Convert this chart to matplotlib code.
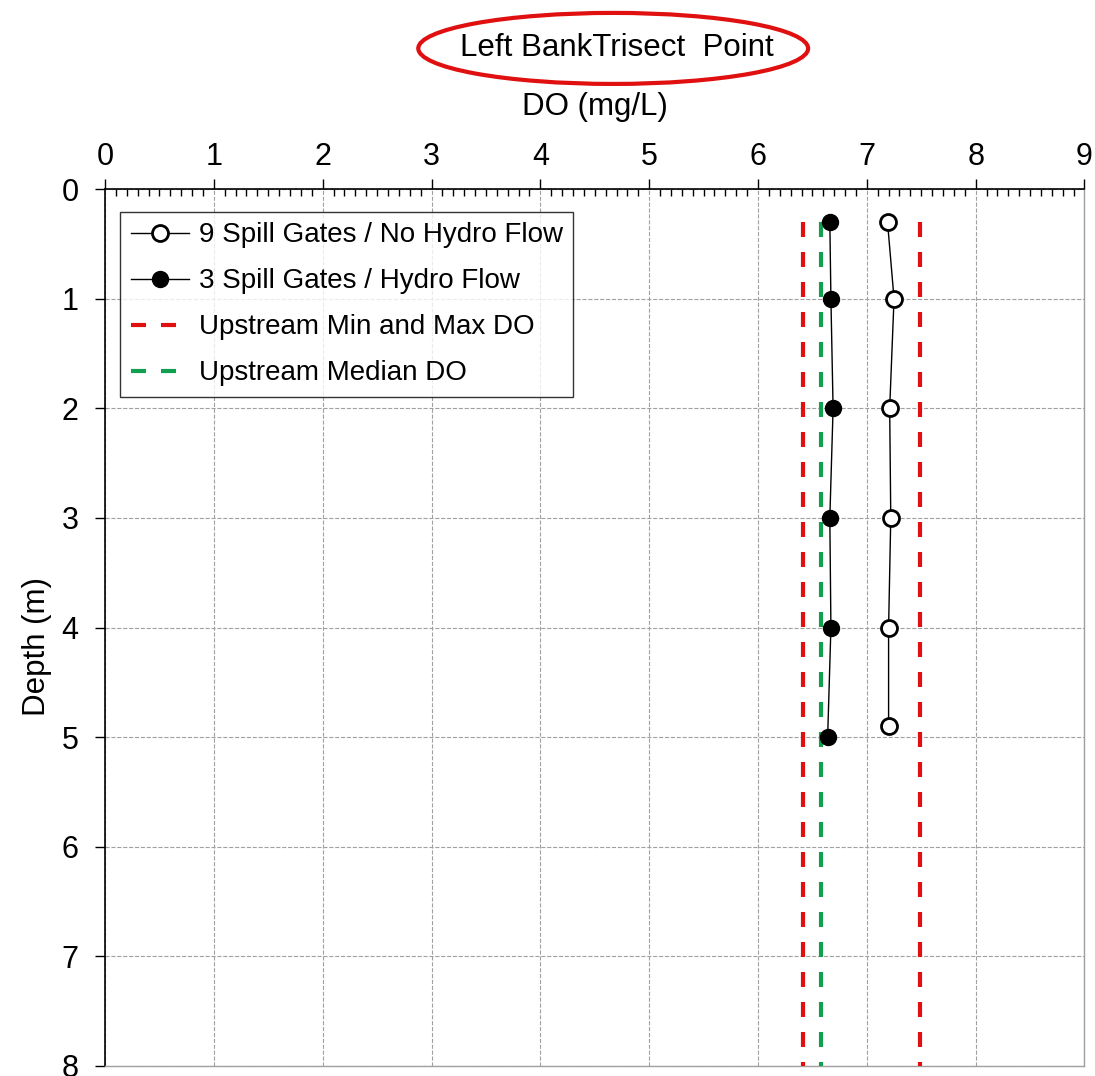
import matplotlib
matplotlib.use("Agg")
import matplotlib.pyplot as plt
from matplotlib.patches import Ellipse
from matplotlib.ticker import MultipleLocator

plt.rcParams['font.family'] = ['Liberation Sans', 'DejaVu Sans']

# data
depth_9gates = [0.3, 1.0, 2.0, 3.0, 4.0, 4.9]
do_9gates = [7.19, 7.25, 7.21, 7.22, 7.20, 7.20]
depth_3gates = [0.3, 1.0, 2.0, 3.0, 4.0, 5.0]
do_3gates = [6.66, 6.67, 6.69, 6.66, 6.67, 6.64]
upstream_min = 6.41
upstream_max = 7.49
upstream_median = 6.58
ref_depth = [0.3, 8.0]

dash = (0, (3.6, 3.6))

fig = plt.figure(figsize=(10.95, 10.76), dpi=100)
ax = fig.add_axes([0.0959, 0.0093, 0.8945, 0.815])

ax.plot(do_9gates, depth_9gates, color='black', lw=1, marker='o', ms=11.5,
        mfc='white', mec='black', mew=2, label='9 Spill Gates / No Hydro Flow', zorder=5)
ax.plot(do_3gates, depth_3gates, color='black', lw=1, marker='o', ms=11.5,
        mfc='black', mec='black', label='3 Spill Gates / Hydro Flow', zorder=5)
ax.plot([upstream_min] * 2, ref_depth, color='#e01010', lw=3, ls=dash,
        label='Upstream Min and Max DO', zorder=3)
ax.plot([upstream_max] * 2, ref_depth, color='#e01010', lw=3, ls=dash, zorder=3)
ax.plot([upstream_median] * 2, ref_depth, color='#10a050', lw=3, ls=dash,
        label='Upstream Median DO', zorder=3)

ax.set_xlim(0, 9)
ax.set_ylim(8, 0)
ax.xaxis.set_major_locator(MultipleLocator(1))
ax.xaxis.set_minor_locator(MultipleLocator(0.1))
ax.yaxis.set_major_locator(MultipleLocator(1))
ax.xaxis.tick_top()
ax.xaxis.set_label_position('top')
ax.tick_params(axis='x', which='major', direction='out', length=7, width=1,
               labelsize=22, pad=5, top=True, bottom=False)
ax.tick_params(axis='x', which='minor', direction='in', length=5, width=1,
               top=True, bottom=False)
ax.tick_params(axis='y', which='major', direction='out', length=7, width=1,
               labelsize=22, pad=12, right=False)

ax.grid(True, which='major', color='#a0a0a0', ls='--', lw=0.8)
for s in ['top', 'left']:
    ax.spines[s].set_color('black')
    ax.spines[s].set_linewidth(1.2)
for s in ['right', 'bottom']:
    ax.spines[s].set_color('#a0a0a0')
    ax.spines[s].set_linewidth(1)

ax.set_xlabel('DO (mg/L)', fontsize=22.5, labelpad=20)
ax.set_ylabel('Depth (m)', fontsize=22.5)
ax.yaxis.set_label_coords(-0.054, 0.478)

leg = ax.legend(loc='upper left', bbox_to_anchor=(0.0153, 0.974), fontsize=20,
                frameon=True, fancybox=False, edgecolor='black', handlelength=2.1,
                borderpad=0.38, labelspacing=0.72, handletextpad=0.35, borderaxespad=0)
leg.get_frame().set_linewidth(1)

fig.text(0.563, 0.955, 'Left BankTrisect  Point', fontsize=22.5, ha='center', va='center')
fig.patches.append(Ellipse((0.560, 0.955), 0.356, 0.066, transform=fig.transFigure,
                           fill=False, edgecolor='#e01010', lw=3))

fig.savefig('out.png', dpi=100, facecolor='white')
